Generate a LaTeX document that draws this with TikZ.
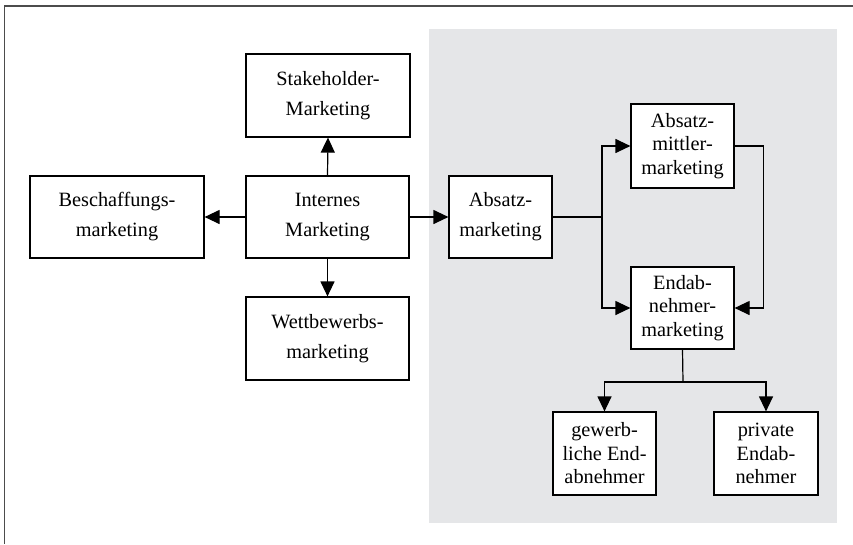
\documentclass[tikz,border=0pt]{standalone}
\usepackage{fontspec}
\setmainfont{Liberation Serif}
\usepackage{tikz}
\usetikzlibrary{arrows.meta}
\definecolor{panelgrey}{RGB}{229,230,232}
\tikzset{every picture/.style={line width=1.2pt}}
\tikzset{
  mbox/.style={draw, fill=white, align=center, inner sep=0pt,
    font=\fontsize{20.3}{30}\selectfont},
  mboxthree/.style={mbox, font=\fontsize{20.3}{23.5}\selectfont},
  flow/.style={-{Triangle[length=15pt,width=14pt]}},
}

\begin{document}
\begin{tikzpicture}[x=1pt,y=1pt,yscale=-1,xscale=1]
\useasboundingbox (0,0) rectangle (853,544);

%Shape: Frame (top and left edge)
\draw [line width=1.8pt, draw=black!70] (853,6) -- (4.5,6) -- (4.5,544) ;
%Shape: Grey panel
\fill [panelgrey] (429,29) rectangle (837,523) ;

% Text Node
\node [mbox, minimum width=164, minimum height=83] (stake) at (328,95.5) {Stakeholder-\\Marketing};
% Text Node
\node [mbox, minimum width=163, minimum height=82] (intern) at (327.5,217) {Internes\\Marketing};
% Text Node
\node [mbox, minimum width=174, minimum height=82] (beschaff) at (117,217) {Beschaffungs-\\marketing};
% Text Node
\node [mbox, minimum width=163, minimum height=83] (wettb) at (327.5,338.5) {Wettbewerbs-\\marketing};
% Text Node
\node [mbox, minimum width=103, minimum height=82] (absatz) at (500.5,217) {Absatz-\\marketing};
% Text Node
\node [mboxthree, minimum width=103, minimum height=84] (mittler) at (682.5,146) {Absatz-\\mittler-\\marketing};
% Text Node
\node [mboxthree, minimum width=103, minimum height=82] (endab) at (682.5,308) {Endab-\\nehmer-\\marketing};
% Text Node
\node [mboxthree, minimum width=103, minimum height=83] (gewerb) at (604.5,453.5) {gewerb-\\liche End-\\abnehmer};
% Text Node
\node [mboxthree, minimum width=104, minimum height=83] (privat) at (766,453.5) {private\\Endab-\\nehmer};

\coordinate (split) at (602,217);
\coordinate (fork) at (683,382);

%Straight Lines
\draw [flow] (intern.north) -- (stake.south) ;
\draw [flow] (intern.south) -- (wettb.north) ;
\draw [flow] (intern.west) -- (beschaff.east) ;
\draw [flow] (intern.east) -- (absatz.west) ;
\draw (absatz.east) -- (split) ;
\draw [flow] (split) |- (mittler.west) ;
\draw [flow] (split) |- (endab.west) ;
\draw [flow] (mittler.east) -- ++(29,0) |- (endab.east) ;
\draw (endab.south) -- (fork) ;
\draw [flow] (fork) -| (gewerb.north) ;
\draw [flow] (fork) -| (privat.north) ;

\end{tikzpicture}
\end{document}
